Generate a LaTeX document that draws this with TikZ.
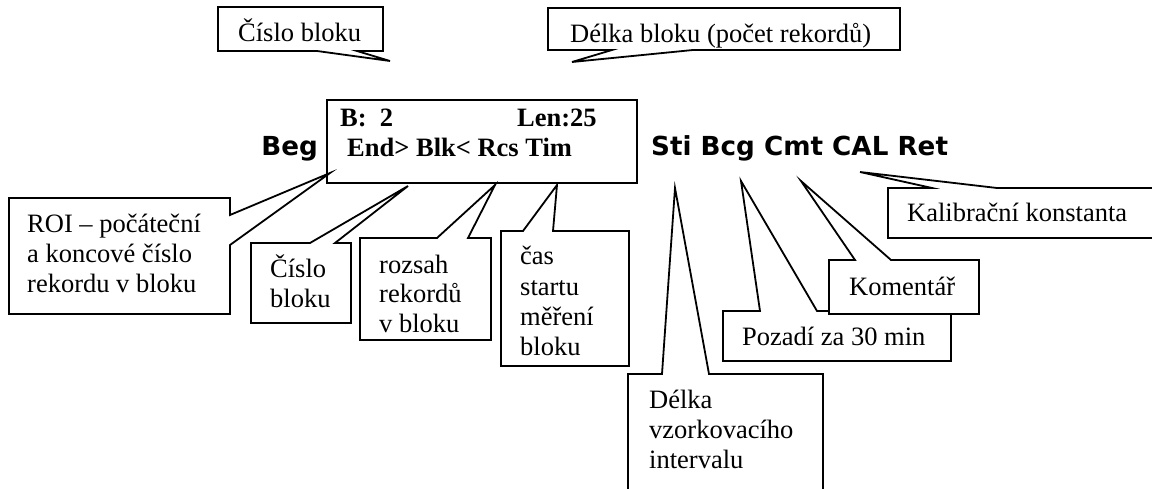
\documentclass[tikz,border=0pt]{standalone}
\usepackage{fontspec}
\setmainfont{Liberation Serif}
\newfontfamily\fieldfont{DejaVu Sans}
\begin{document}
\begin{tikzpicture}[x=1pt,y=-1pt,
  callout/.style={draw=black, fill=white, line width=1.8pt, line join=miter},
  txt/.style={anchor=base west, inner sep=0pt, font=\fontsize{26.5}{30}\selectfont},
  boldtxt/.style={anchor=base west, inner sep=0pt, font=\fontsize{26.5}{30}\selectfont\bfseries},
  field/.style={anchor=base west, inner sep=0pt, font=\fontsize{26.2}{30}\selectfont\fieldfont\bfseries},
]
\useasboundingbox (0,0) rectangle (1152,489);
\fill[white] (0,0) rectangle (1152,489);

% header record: display box and field names
\draw[callout] (327,100) rectangle (637,183);
\node[boldtxt] (bnum) at (340,127) {B:\ \ 2};
\node[boldtxt] (blen) at (517,127) {Len:25};
\node[boldtxt] (bcmd) at (347,157) {End> Blk< Rcs Tim};
\node[field, anchor=base east] (beg) at (318,156) {Beg};
\node[field] (rest) at (651,156) {Sti Bcg Cmt CAL Ret};

% callouts above the box
\draw[callout] (218,7) -- (383,7) -- (383,51) -- (357,51) -- (390,61) -- (317,51) -- (218,51) -- cycle;
\node[txt] (topnum) at (238,42) {Číslo bloku};
\draw[callout] (548,8) -- (900,8) -- (900,50) -- (693,50) -- (572,62) -- (612,50) -- (548,50) -- cycle;
\node[txt] (toplen) at (570,43) {Délka bloku (počet rekordů)};

% callouts below the box
\draw[callout] (9,198) -- (230,198) -- (230,215) -- (330,173) -- (230,245) -- (230,314) -- (9,314) -- cycle;
\node[txt] (roi1) at (27,233) {ROI – počáteční};
\node[txt] (roi2) at (27,263) {a koncové číslo};
\node[txt] (roi3) at (27,293) {rekordu v bloku};

\draw[callout] (251,243) -- (310,243) -- (408,186) -- (335,243) -- (351,243) -- (351,323) -- (251,323) -- cycle;
\node[txt] (blk1) at (270,278) {Číslo};
\node[txt] (blk2) at (270,308) {bloku};

\draw[callout] (360,238) -- (437,238) -- (495,185) -- (468,238) -- (491,238) -- (491,340) -- (360,340) -- cycle;
\node[txt] (rng1) at (379,273) {rozsah};
\node[txt] (rng2) at (379,303) {rekordů};
\node[txt] (rng3) at (379,332) {v bloku};

\draw[callout] (501,231) -- (523,231) -- (557,185) -- (553,231) -- (629,231) -- (629,366) -- (501,366) -- cycle;
\node[txt] (tim1) at (520,265) {čas};
\node[txt] (tim2) at (520,295) {startu};
\node[txt] (tim3) at (520,326) {měření};
\node[txt] (tim4) at (520,355) {bloku};

% callouts for the trailing fields
\draw[callout] (628,495) -- (628,374) -- (662,374) -- (675,188) -- (709,374) -- (823,374) -- (823,495);
\node[txt] (sti1) at (649,408) {Délka};
\node[txt] (sti2) at (649,438) {vzorkovacího};
\node[txt] (sti3) at (649,468) {intervalu};

\draw[callout] (723,311) -- (760,311) -- (741,181) -- (817,311) -- (951,311) -- (951,361) -- (723,361) -- cycle;
\node[txt] (bcg) at (742,345) {Pozadí za 30 min};

\draw[callout] (829,260) -- (855,260) -- (801,181) -- (891,260) -- (979,260) -- (979,314) -- (829,314) -- cycle;
\node[txt] (cmt) at (849,296) {Komentář};

\draw[callout] (1158,238) -- (888,238) -- (888,188) -- (932,188) -- (860,172) -- (997,188) -- (1158,188);
\node[txt] (cal) at (907,222) {Kalibrační konstanta};
\end{tikzpicture}
\end{document}
